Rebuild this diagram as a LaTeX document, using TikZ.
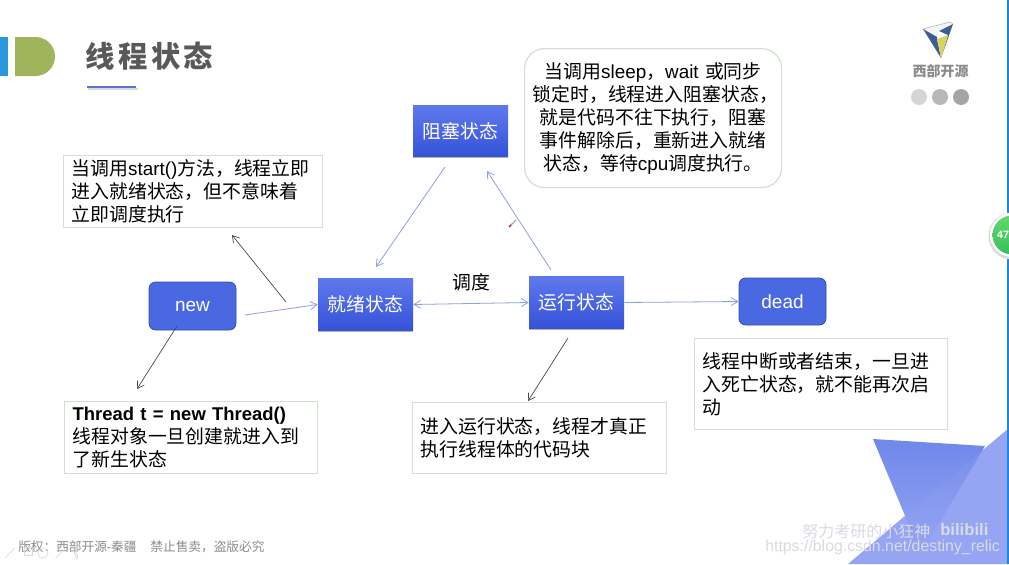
\documentclass[tikz,border=0pt]{standalone}
\usepackage{fontspec}
\setmainfont{Noto Sans CJK SC}
\newfontfamily\latfont{Liberation Sans}
\newfontfamily\titlefont[LetterSpace=11]{Noto Sans CJK SC}
\newcommand{\la}[1]{{\latfont #1}}
\usetikzlibrary{arrows.meta,shadows}
\definecolor{boxline}{HTML}{CFE2CC}
\definecolor{arrowblue}{HTML}{8E9FE4}
\definecolor{arrowdark}{HTML}{444444}
\definecolor{triLight}{HTML}{96A5F3}
\definecolor{triDark}{HTML}{6F88EA}
\definecolor{edgeBlue}{HTML}{1E88D8}
\definecolor{barBlue}{HTML}{2A96DC}
\definecolor{olive}{HTML}{A0B45C}
\definecolor{titleGray}{HTML}{595959}
\definecolor{ruleBlue}{HTML}{5B6FD6}
\definecolor{logoWhite}{HTML}{F4F4F4}
\definecolor{logoBlue}{HTML}{3C5F93}
\definecolor{logoYellow}{HTML}{D8D45C}
\definecolor{brandGray}{HTML}{8A8A8A}
\definecolor{dotA}{HTML}{D5D5D8}
\definecolor{dotB}{HTML}{B8B8B8}
\definecolor{dotC}{HTML}{A5A5A5}
\definecolor{badgeTop}{HTML}{62D86C}
\definecolor{badgeBot}{HTML}{38C05C}
\definecolor{stateBot}{HTML}{3553D8}
\definecolor{stateTop}{HTML}{5F78EC}
\definecolor{endFill}{HTML}{4A68E2}
\definecolor{footGray}{HTML}{8C8C8C}
\definecolor{wmGray}{HTML}{DADAE2}
\tikzset{
  body/.style={font=\fontsize{14.15pt}{17.25pt}\selectfont},
  statebox/.style={body,text=white,minimum width=71.25pt,minimum height=38.5pt,inner sep=0pt,
    top color=stateTop,bottom color=stateBot,draw=none,
    drop shadow={shadow xshift=0.3pt,shadow yshift=-1pt,opacity=.3,fill=black}},
  endbox/.style={text=white,font=\fontsize{14.25pt}{17.25pt}\latfont,fill=endFill,draw=endFill!75!black,line width=.6pt,rounded corners=5pt,inner sep=0pt,
    minimum width=65.25pt},
  notebox/.style={body,draw=boxline,line width=.9pt,fill=white,align=left,inner xsep=6pt,inner ysep=0pt,anchor=north west},
  link/.style={draw=arrowblue,line width=.6pt,-{Straight Barb[length=5pt,width=6pt]}},
  linkdark/.style={draw=arrowdark,line width=.5pt,-{Straight Barb[length=5pt,width=6pt]}},
}
\begin{document}
\begin{tikzpicture}[x=0.75pt,y=-0.75pt]
\useasboundingbox (0,0) rectangle (1009,564);
\clip (0,0) rectangle (1009,564);
\fill[white] (0,0) rectangle (1009,564);
% decoration, bottom right
\fill[triLight] (1009,428) -- (848,564) -- (1009,564) -- cycle;
\shade[top color=triDark,middle color=triDark,bottom color=triLight] (873,439) -- (985,446) -- (921,554) -- cycle;
\fill[triLight,opacity=.2] (1009,428) -- (848,564) -- (1009,564) -- cycle;
\draw[edgeBlue,line width=1.5pt] (1008.2,0) -- (1008.2,564);
% header
\fill[barBlue] (0,37) rectangle (8,76);
\fill[olive] (15,37) -- (35.5,37) arc (-90:90:19.5) -- (15,76) -- cycle;
\node[text=titleGray,font=\fontsize{22pt}{24pt}\titlefont\bfseries,inner sep=0pt] (title) at (149.5,56) {线程状态};
\fill[gray!30] (88,88) rectangle (138,90);
\fill[ruleBlue] (87,86) rectangle (136,88);
% logo
\fill[logoWhite] (923,29) -- (951,22) -- (953,24) -- (939,31) -- (937,37) -- cycle;
\draw[gray!60,line width=.4pt] (923,29) -- (950,22) -- (953,24);
\fill[logoBlue] (923,29) -- (937,37) -- (937,39) -- (941,58) -- cycle;
\fill[logoBlue] (953,24) -- (941,58) -- (948,35) -- (939,31) -- cycle;
\fill[logoYellow] (937,39) -- (948,35) -- (941,58) -- cycle;
\node[text=brandGray,font=\fontsize{10.5pt}{12pt}\selectfont\bfseries,inner sep=0pt] (brand) at (940.5,71) {西部开源};
\fill[dotA] (919,97) circle (8);
\fill[dotB] (940,97) circle (8);
\fill[dotC] (961,97) circle (8);
% badge
\fill[gray!30] (1012,236) circle (23.5);
\fill[white] (1012,235) circle (22);
\shade[top color=badgeTop,bottom color=badgeBot] (1012,235) circle (19.5);
\node[text=white,font=\fontsize{8pt}{9pt}\latfont\bfseries,inner sep=0pt] (badge) at (1003,235) {47};
% state nodes
\node[statebox] (blocked) at (460.5,131) {阻塞状态};
\node[statebox] (ready) at (365.5,304.5) {就绪状态};
\node[statebox] (run) at (576.5,302.5) {运行状态};
\node[endbox,minimum height=36pt] (new) at (192.5,306) {new};
\node[endbox,minimum height=35.25pt] (dead) at (782.5,301.5) {dead};
% notes
\node[notebox,minimum width=194.25pt,minimum height=54pt,text width=182.25pt] (nstart) at (63,155)
  {当调用\la{start()}方法，线程立即\\进入就绪状态，但不意味着\\立即调度执行};
\node[notebox,minimum width=189.75pt,minimum height=54pt,text width=177.75pt] (nthread) at (64,401)
  {{\fontsize{13.85pt}{17.25pt}\latfont\bfseries Thread t = new Thread()}\\线程对象一旦创建就进入到\\了新生状态};
\node[notebox,minimum width=190.5pt,minimum height=53.25pt,text width=178.5pt] (nrun) at (412,402)
  {进入运行状态，线程才真正\\执行线程体的代码块};
\node[notebox,minimum width=189.75pt,minimum height=68.25pt,text width=177.75pt] (ndead) at (694,338)
  {线程中断或者结束，一旦进\\入死亡状态，就不能再次启\\动};
\node[notebox,rounded corners=15pt,minimum width=192.75pt,minimum height=104.25pt,text width=180.75pt,align=center] (nblock) at (524,48)
  {当调用\la{sleep}，\la{wait} 或同步\\锁定时，线程进入阻塞状态，\hspace*{7.5pt}\\就是代码不往下执行，阻塞\\事件解除后，重新进入就绪\\状态，等待\la{cpu}调度执行。};
\node[body,inner sep=0pt] (sched) at (471,282) {调度};
% free connector ends
\coordinate (a1) at (245,315);
\coordinate (a2) at (445,167);
\coordinate (a3) at (376,267);
\coordinate (a4) at (551,270);
\coordinate (a5) at (487,171);
\coordinate (b1) at (286,302);
\coordinate (b2) at (232,235);
\coordinate (b3) at (177,326);
\coordinate (b4) at (137,389);
\coordinate (b5) at (568,338);
\coordinate (b6) at (528,401);
% connectors
\draw[link] (a1) -- (ready.west);
\draw[link,{Straight Barb[length=5pt,width=6pt]}-{Straight Barb[length=5pt,width=6pt]}] (ready.east) -- (run.west);
\draw[link] (a2) -- (a3);
\draw[link] (a4) -- (a5);
\draw[link] (run.east) -- (dead.west);
\draw[linkdark] (b1) -- (b2);
\draw[linkdark] (b3) -- (b4);
\draw[linkdark] (b5) -- (b6);
% pen cursor
\draw[gray!70,line width=.9pt] (510,226) -- (516,220);
\draw[red!85!black,line width=1pt] (509,227) -- (511,225);
% footer
\node[text=footGray,font=\fontsize{9.5pt}{11pt}\selectfont,inner sep=0pt,anchor=west] (copyright) at (18,546.5)
  {版权：西部开源\la{-}秦疆\hspace{1.1em}禁止售卖，盗版必究};
\begin{scope}[draw=gray!30,line width=.5pt]
  \draw (5,558) -- (15,548);
  \draw (24,547) rectangle (32,555);
  \draw (43,553) circle (5);
  \draw (56,558) -- (65,549);
  \draw (74,552) -- (77,559) -- (78,554) -- cycle;
\end{scope}
% watermarks
\node[text=wmGray,font=\fontsize{12pt}{13pt}\selectfont,inner sep=0pt,anchor=west] (w1) at (802,531) {努力考研的小狂神};
\node[text=wmGray,font=\fontsize{12.5pt}{13pt}\latfont\bfseries,inner sep=0pt,anchor=west] (w2) at (940,530) {bilibili};
\node[text=wmGray,font=\fontsize{11.9pt}{12pt}\latfont,inner sep=0pt,anchor=west] (w3) at (765,547) {https://blog.csdn.net/destiny\_relic};
\end{tikzpicture}
\end{document}
